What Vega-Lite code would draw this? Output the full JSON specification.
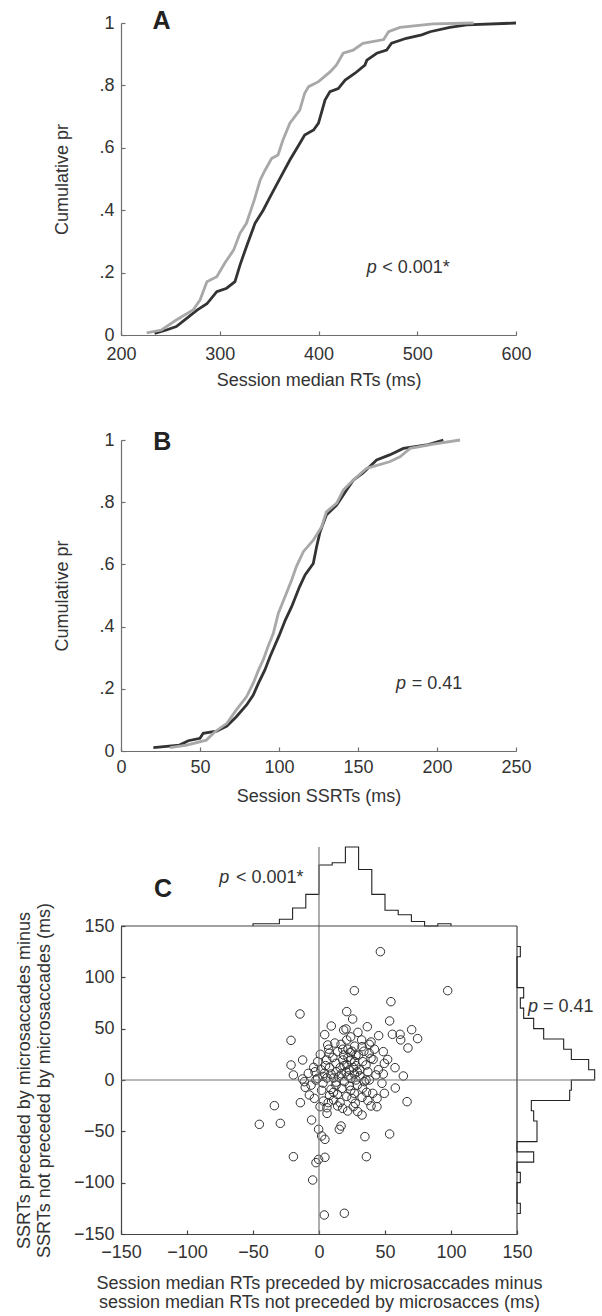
{
  "$schema": "https://vega.github.io/schema/vega-lite/v6.json",
  "padding": {"left": 14, "top": 9, "right": 5, "bottom": 5},
  "config": {
    "font": "Liberation Sans",
    "view": {"stroke": null},
    "axis": {
      "labelFont": "Liberation Sans", "titleFont": "Liberation Sans",
      "labelFontSize": 18, "titleFontSize": 18, "titleFontWeight": "normal",
      "labelColor": "#333333", "titleColor": "#333333",
      "domainColor": "#6e6e6e", "tickColor": "#6e6e6e", "domainWidth": 1.2, "tickWidth": 1.2,
      "grid": false, "tickSize": -4, "labelPadding": 11, "labelFlush": false, "labelOverlap": false
    }
  },
  "datasets": {
    "cdfA": [
      {"rt": 234, "p": 0.005, "grp": "dark"}, {"rt": 246, "p": 0.016, "grp": "dark"}, {"rt": 256, "p": 0.027, "grp": "dark"},
      {"rt": 266.5, "p": 0.053, "grp": "dark"}, {"rt": 277, "p": 0.08, "grp": "dark"}, {"rt": 287, "p": 0.10, "grp": "dark"},
      {"rt": 297, "p": 0.139, "grp": "dark"}, {"rt": 307, "p": 0.15, "grp": "dark"}, {"rt": 315.4, "p": 0.171, "grp": "dark"},
      {"rt": 320.5, "p": 0.224, "grp": "dark"}, {"rt": 327, "p": 0.283, "grp": "dark"}, {"rt": 335.7, "p": 0.358, "grp": "dark"},
      {"rt": 344, "p": 0.40, "grp": "dark"}, {"rt": 351, "p": 0.443, "grp": "dark"}, {"rt": 361, "p": 0.502, "grp": "dark"},
      {"rt": 371, "p": 0.561, "grp": "dark"}, {"rt": 381, "p": 0.614, "grp": "dark"}, {"rt": 386, "p": 0.641, "grp": "dark"},
      {"rt": 395, "p": 0.657, "grp": "dark"}, {"rt": 400, "p": 0.679, "grp": "dark"}, {"rt": 406.6, "p": 0.753, "grp": "dark"},
      {"rt": 411.6, "p": 0.78, "grp": "dark"}, {"rt": 420, "p": 0.79, "grp": "dark"}, {"rt": 427, "p": 0.817, "grp": "dark"},
      {"rt": 437, "p": 0.839, "grp": "dark"}, {"rt": 447, "p": 0.865, "grp": "dark"}, {"rt": 449, "p": 0.881, "grp": "dark"},
      {"rt": 459, "p": 0.903, "grp": "dark"}, {"rt": 469, "p": 0.913, "grp": "dark"}, {"rt": 474, "p": 0.935, "grp": "dark"},
      {"rt": 489, "p": 0.951, "grp": "dark"}, {"rt": 504.5, "p": 0.962, "grp": "dark"}, {"rt": 513, "p": 0.972, "grp": "dark"},
      {"rt": 533, "p": 0.986, "grp": "dark"}, {"rt": 550, "p": 0.994, "grp": "dark"}, {"rt": 600, "p": 1.0, "grp": "dark"},
      {"rt": 226, "p": 0.007, "grp": "light"}, {"rt": 241, "p": 0.016, "grp": "light"}, {"rt": 256, "p": 0.048, "grp": "light"},
      {"rt": 273, "p": 0.08, "grp": "light"}, {"rt": 280, "p": 0.112, "grp": "light"}, {"rt": 287, "p": 0.171, "grp": "light"},
      {"rt": 297, "p": 0.187, "grp": "light"}, {"rt": 305, "p": 0.23, "grp": "light"}, {"rt": 314, "p": 0.272, "grp": "light"},
      {"rt": 320.5, "p": 0.326, "grp": "light"}, {"rt": 327, "p": 0.358, "grp": "light"}, {"rt": 335, "p": 0.433, "grp": "light"},
      {"rt": 341, "p": 0.497, "grp": "light"}, {"rt": 346, "p": 0.529, "grp": "light"}, {"rt": 352.6, "p": 0.566, "grp": "light"},
      {"rt": 359, "p": 0.577, "grp": "light"}, {"rt": 364, "p": 0.625, "grp": "light"}, {"rt": 371, "p": 0.679, "grp": "light"},
      {"rt": 381, "p": 0.721, "grp": "light"}, {"rt": 386, "p": 0.775, "grp": "light"}, {"rt": 390, "p": 0.796, "grp": "light"},
      {"rt": 400, "p": 0.812, "grp": "light"}, {"rt": 412, "p": 0.844, "grp": "light"}, {"rt": 418, "p": 0.865, "grp": "light"},
      {"rt": 425, "p": 0.903, "grp": "light"}, {"rt": 435, "p": 0.913, "grp": "light"}, {"rt": 445, "p": 0.935, "grp": "light"},
      {"rt": 466, "p": 0.947, "grp": "light"}, {"rt": 471, "p": 0.972, "grp": "light"}, {"rt": 482.5, "p": 0.986, "grp": "light"},
      {"rt": 516, "p": 0.997, "grp": "light"}, {"rt": 557, "p": 1.0, "grp": "light"}
    ],
    "cdfB": [
      {"ssrt": 20.5, "p": 0.011, "grp": "dark"}, {"ssrt": 37, "p": 0.019, "grp": "dark"}, {"ssrt": 42.6, "p": 0.033, "grp": "dark"},
      {"ssrt": 50, "p": 0.041, "grp": "dark"}, {"ssrt": 52, "p": 0.057, "grp": "dark"}, {"ssrt": 60.5, "p": 0.064, "grp": "dark"},
      {"ssrt": 67, "p": 0.08, "grp": "dark"}, {"ssrt": 73, "p": 0.11, "grp": "dark"}, {"ssrt": 79.5, "p": 0.148, "grp": "dark"},
      {"ssrt": 83.7, "p": 0.18, "grp": "dark"}, {"ssrt": 87, "p": 0.218, "grp": "dark"}, {"ssrt": 91, "p": 0.26, "grp": "dark"},
      {"ssrt": 94.3, "p": 0.303, "grp": "dark"}, {"ssrt": 97.5, "p": 0.341, "grp": "dark"}, {"ssrt": 100, "p": 0.37, "grp": "dark"},
      {"ssrt": 104, "p": 0.421, "grp": "dark"}, {"ssrt": 108, "p": 0.464, "grp": "dark"}, {"ssrt": 113, "p": 0.528, "grp": "dark"},
      {"ssrt": 116.5, "p": 0.566, "grp": "dark"}, {"ssrt": 121.7, "p": 0.603, "grp": "dark"}, {"ssrt": 123.8, "p": 0.657, "grp": "dark"},
      {"ssrt": 126, "p": 0.705, "grp": "dark"}, {"ssrt": 130, "p": 0.759, "grp": "dark"}, {"ssrt": 136.5, "p": 0.791, "grp": "dark"},
      {"ssrt": 142.8, "p": 0.839, "grp": "dark"}, {"ssrt": 147, "p": 0.871, "grp": "dark"}, {"ssrt": 153, "p": 0.893, "grp": "dark"},
      {"ssrt": 161.8, "p": 0.936, "grp": "dark"}, {"ssrt": 170, "p": 0.952, "grp": "dark"}, {"ssrt": 178.7, "p": 0.973, "grp": "dark"},
      {"ssrt": 193.5, "p": 0.984, "grp": "dark"}, {"ssrt": 204, "p": 1.0, "grp": "dark"},
      {"ssrt": 31, "p": 0.011, "grp": "light"}, {"ssrt": 41.6, "p": 0.019, "grp": "light"}, {"ssrt": 54, "p": 0.035, "grp": "light"},
      {"ssrt": 59.5, "p": 0.062, "grp": "light"}, {"ssrt": 67, "p": 0.089, "grp": "light"}, {"ssrt": 73, "p": 0.132, "grp": "light"},
      {"ssrt": 79.5, "p": 0.175, "grp": "light"}, {"ssrt": 83.7, "p": 0.218, "grp": "light"}, {"ssrt": 87, "p": 0.26, "grp": "light"},
      {"ssrt": 90, "p": 0.293, "grp": "light"}, {"ssrt": 93, "p": 0.335, "grp": "light"}, {"ssrt": 96.4, "p": 0.378, "grp": "light"},
      {"ssrt": 99.6, "p": 0.443, "grp": "light"}, {"ssrt": 103.8, "p": 0.496, "grp": "light"}, {"ssrt": 108, "p": 0.55, "grp": "light"},
      {"ssrt": 111, "p": 0.593, "grp": "light"}, {"ssrt": 115.4, "p": 0.641, "grp": "light"}, {"ssrt": 121.7, "p": 0.678, "grp": "light"},
      {"ssrt": 127, "p": 0.721, "grp": "light"}, {"ssrt": 130, "p": 0.769, "grp": "light"}, {"ssrt": 136.5, "p": 0.797, "grp": "light"},
      {"ssrt": 140.7, "p": 0.839, "grp": "light"}, {"ssrt": 147, "p": 0.871, "grp": "light"}, {"ssrt": 155.5, "p": 0.909, "grp": "light"},
      {"ssrt": 170, "p": 0.93, "grp": "light"}, {"ssrt": 176.6, "p": 0.946, "grp": "light"}, {"ssrt": 183, "p": 0.973, "grp": "light"},
      {"ssrt": 197.7, "p": 0.987, "grp": "light"}, {"ssrt": 214.6, "p": 1.0, "grp": "light"}
    ],
    "pts": [
      {"dRT": -45.2, "dSSRT": -43.2}, {"dRT": -33.8, "dSSRT": -25},
      {"dRT": -29.3, "dSSRT": -42.2}, {"dRT": -21.2, "dSSRT": 38.6}, {"dRT": -21.2, "dSSRT": 14.6},
      {"dRT": -14.4, "dSSRT": 64.3}, {"dRT": -12.4, "dSSRT": 19.5}, {"dRT": -19.4, "dSSRT": 4.9}, {"dRT": -11.1, "dSSRT": -1.6},
      {"dRT": -10.4, "dSSRT": -7.1}, {"dRT": -14.1, "dSSRT": -22.1}, {"dRT": -19.4, "dSSRT": -74.7}, {"dRT": -12.5, "dSSRT": 1},
      {"dRT": -8.1, "dSSRT": 6.5}, {"dRT": -7.3, "dSSRT": -14.6}, {"dRT": -3.5, "dSSRT": -17.9}, {"dRT": -4, "dSSRT": 12.3},
      {"dRT": -2.3, "dSSRT": 0}, {"dRT": -5.6, "dSSRT": -39}, {"dRT": -0.3, "dSSRT": -48}, {"dRT": -2.3, "dSSRT": -80.5},
      {"dRT": -0.3, "dSSRT": -77.3}, {"dRT": -4.8, "dSSRT": -97.4}, {"dRT": -1, "dSSRT": 17.9}, {"dRT": -1, "dSSRT": 1.6},
      {"dRT": -6, "dSSRT": -5}, {"dRT": -3, "dSSRT": 8},
      {"dRT": 4.3, "dSSRT": 44.2}, {"dRT": 9.3, "dSSRT": 52.6}, {"dRT": 6.6, "dSSRT": 34.1}, {"dRT": 7.8, "dSSRT": 26},
      {"dRT": 5.8, "dSSRT": 19.5}, {"dRT": 4, "dSSRT": 6.5}, {"dRT": 9.1, "dSSRT": 5.8}, {"dRT": 9.1, "dSSRT": -9.1},
      {"dRT": 3.3, "dSSRT": -20.5}, {"dRT": 0.8, "dSSRT": -26}, {"dRT": 6.1, "dSSRT": -32.5}, {"dRT": 2, "dSSRT": -54.5},
      {"dRT": 4.5, "dSSRT": -57.8}, {"dRT": 4.5, "dSSRT": -75.3}, {"dRT": 4, "dSSRT": -131.5}, {"dRT": 7.3, "dSSRT": 30},
      {"dRT": 1.5, "dSSRT": 10}, {"dRT": 3, "dSSRT": -3}, {"dRT": 6, "dSSRT": 2}, {"dRT": 8, "dSSRT": -15},
      {"dRT": 2, "dSSRT": -10}, {"dRT": 5, "dSSRT": 14}, {"dRT": 7, "dSSRT": -22}, {"dRT": 1, "dSSRT": 25},
      {"dRT": 8, "dSSRT": 12}, {"dRT": 3, "dSSRT": 3.5}, {"dRT": 6, "dSSRT": -27},
      {"dRT": 18.7, "dSSRT": 48.7}, {"dRT": 16.7, "dSSRT": 34.7}, {"dRT": 14.1, "dSSRT": 27.6}, {"dRT": 18.7, "dSSRT": 24.4},
      {"dRT": 18, "dSSRT": 19.5}, {"dRT": 12.9, "dSSRT": 16.2}, {"dRT": 12.9, "dSSRT": -4.9}, {"dRT": 19.2, "dSSRT": -1.6},
      {"dRT": 17.4, "dSSRT": -8.1}, {"dRT": 11.1, "dSSRT": -19.5}, {"dRT": 14.1, "dSSRT": -25.3}, {"dRT": 17.9, "dSSRT": -27.6},
      {"dRT": 16.7, "dSSRT": -44.8}, {"dRT": 15.4, "dSSRT": -48}, {"dRT": 19.2, "dSSRT": -129.8}, {"dRT": 10.5, "dSSRT": 22},
      {"dRT": 13, "dSSRT": 8}, {"dRT": 15, "dSSRT": 3}, {"dRT": 16, "dSSRT": 12}, {"dRT": 11, "dSSRT": -12},
      {"dRT": 14, "dSSRT": -14}, {"dRT": 18, "dSSRT": 30}, {"dRT": 12, "dSSRT": 36}, {"dRT": 19, "dSSRT": 14},
      {"dRT": 16, "dSSRT": -22}, {"dRT": 13, "dSSRT": -2}, {"dRT": 17, "dSSRT": 6}, {"dRT": 11, "dSSRT": 2},
      {"dRT": 21, "dSSRT": 66.6}, {"dRT": 25.5, "dSSRT": 59.4}, {"dRT": 20.5, "dSSRT": 49.7}, {"dRT": 29.5, "dSSRT": 46.4},
      {"dRT": 21, "dSSRT": 39}, {"dRT": 23.7, "dSSRT": 26.6}, {"dRT": 24.2, "dSSRT": 19.5}, {"dRT": 26.8, "dSSRT": 5.8},
      {"dRT": 24.2, "dSSRT": 1.6}, {"dRT": 23, "dSSRT": -5.8}, {"dRT": 26.8, "dSSRT": -13}, {"dRT": 27.5, "dSSRT": -22.7},
      {"dRT": 29.3, "dSSRT": -30.8}, {"dRT": 21.7, "dSSRT": -30.2}, {"dRT": 26.8, "dSSRT": 87}, {"dRT": 22, "dSSRT": 22},
      {"dRT": 25, "dSSRT": 28}, {"dRT": 28, "dSSRT": 24}, {"dRT": 21, "dSSRT": 15}, {"dRT": 27, "dSSRT": 18},
      {"dRT": 23, "dSSRT": 10}, {"dRT": 26, "dSSRT": 12}, {"dRT": 29, "dSSRT": 8}, {"dRT": 22, "dSSRT": 4},
      {"dRT": 28, "dSSRT": 0}, {"dRT": 24, "dSSRT": -10}, {"dRT": 21, "dSSRT": -16}, {"dRT": 25, "dSSRT": -18},
      {"dRT": 29, "dSSRT": -5}, {"dRT": 22, "dSSRT": 30}, {"dRT": 27, "dSSRT": 33}, {"dRT": 24, "dSSRT": 42},
      {"dRT": 28, "dSSRT": 14}, {"dRT": 20.5, "dSSRT": 8}, {"dRT": 26, "dSSRT": -26},
      {"dRT": 36.6, "dSSRT": 51.9}, {"dRT": 32.3, "dSSRT": 39}, {"dRT": 39.4, "dSSRT": 37}, {"dRT": 32.6, "dSSRT": 32.5},
      {"dRT": 38.1, "dSSRT": 34.7}, {"dRT": 30, "dSSRT": 24.4}, {"dRT": 33.1, "dSSRT": 17.9}, {"dRT": 39.4, "dSSRT": 21.1},
      {"dRT": 35.6, "dSSRT": 0}, {"dRT": 34.3, "dSSRT": -1.6}, {"dRT": 38.1, "dSSRT": 0}, {"dRT": 32.6, "dSSRT": -16.9},
      {"dRT": 32.6, "dSSRT": -34.1}, {"dRT": 39.4, "dSSRT": -25.3}, {"dRT": 34.8, "dSSRT": -55.2}, {"dRT": 35.9, "dSSRT": -74.7},
      {"dRT": 35.6, "dSSRT": 14.6}, {"dRT": 31, "dSSRT": 10}, {"dRT": 37, "dSSRT": 8}, {"dRT": 33, "dSSRT": -8},
      {"dRT": 36, "dSSRT": -12}, {"dRT": 31, "dSSRT": 4}, {"dRT": 38, "dSSRT": 26}, {"dRT": 34, "dSSRT": 28},
      {"dRT": 37, "dSSRT": -20},
      {"dRT": 45.2, "dSSRT": 43.2}, {"dRT": 48.7, "dSSRT": 27.6}, {"dRT": 49.5, "dSSRT": 16.2}, {"dRT": 43.2, "dSSRT": 4.9},
      {"dRT": 48.7, "dSSRT": 5.8}, {"dRT": 47.7, "dSSRT": -3.2}, {"dRT": 40.7, "dSSRT": -13}, {"dRT": 49.5, "dSSRT": -13},
      {"dRT": 43.9, "dSSRT": -26}, {"dRT": 46.5, "dSSRT": 125}, {"dRT": 42, "dSSRT": 30}, {"dRT": 45, "dSSRT": 10},
      {"dRT": 41, "dSSRT": 20}, {"dRT": 44, "dSSRT": -18},
      {"dRT": 54.5, "dSSRT": 76.3}, {"dRT": 53.5, "dSSRT": 57.5}, {"dRT": 55.6, "dSSRT": 44.5}, {"dRT": 57.6, "dSSRT": 12},
      {"dRT": 57.8, "dSSRT": -7.8}, {"dRT": 53.5, "dSSRT": -52.6}, {"dRT": 52, "dSSRT": 20},
      {"dRT": 61.4, "dSSRT": 44.5}, {"dRT": 61.9, "dSSRT": 39}, {"dRT": 67.4, "dSSRT": 31.2}, {"dRT": 63.9, "dSSRT": 3.9},
      {"dRT": 66.7, "dSSRT": -21.1}, {"dRT": 70.2, "dSSRT": 49}, {"dRT": 74.7, "dSSRT": 40.3}, {"dRT": 97.5, "dSSRT": 87}
    ],
    "histTop": [
      {"i": 0, "edge": -50, "count": 0}, {"i": 1, "edge": -50, "count": 1}, {"i": 2, "edge": -40, "count": 1},
      {"i": 3, "edge": -30, "count": 3}, {"i": 4, "edge": -20, "count": 8}, {"i": 5, "edge": -10, "count": 14},
      {"i": 6, "edge": 0, "count": 27}, {"i": 7, "edge": 10, "count": 28}, {"i": 8, "edge": 20, "count": 35},
      {"i": 9, "edge": 30, "count": 25}, {"i": 10, "edge": 40, "count": 14}, {"i": 11, "edge": 50, "count": 7},
      {"i": 12, "edge": 60, "count": 5}, {"i": 13, "edge": 70, "count": 2}, {"i": 14, "edge": 80, "count": 0},
      {"i": 15, "edge": 90, "count": 1}, {"i": 16, "edge": 100, "count": 0}
    ],
    "histRight": [
      {"i": 0, "edge": 130, "count": 0}, {"i": 1, "edge": 130, "count": 1}, {"i": 2, "edge": 120, "count": 0},
      {"i": 3, "edge": 90, "count": 2}, {"i": 4, "edge": 80, "count": 1}, {"i": 5, "edge": 70, "count": 2},
      {"i": 6, "edge": 60, "count": 5}, {"i": 7, "edge": 50, "count": 8}, {"i": 8, "edge": 40, "count": 14},
      {"i": 9, "edge": 30, "count": 16.3}, {"i": 10, "edge": 20, "count": 21.5}, {"i": 11, "edge": 10, "count": 23.3},
      {"i": 12, "edge": 0, "count": 16.3}, {"i": 13, "edge": -10, "count": 15.8}, {"i": 14, "edge": -20, "count": 4.3},
      {"i": 15, "edge": -30, "count": 5}, {"i": 16, "edge": -40, "count": 6}, {"i": 17, "edge": -50, "count": 6},
      {"i": 18, "edge": -60, "count": 0}, {"i": 19, "edge": -70, "count": 5}, {"i": 20, "edge": -80, "count": 0},
      {"i": 21, "edge": -90, "count": 1}, {"i": 22, "edge": -100, "count": 0}, {"i": 23, "edge": -120, "count": 1},
      {"i": 24, "edge": -130, "count": 0}
    ]
  },
  "spacing": 105,
  "bounds": "flush",
  "vconcat": [
    {
      "width": 395, "height": 312,
      "layer": [
        {
          "data": {"name": "cdfA"},
          "mark": {"type": "line", "strokeWidth": 2.8},
          "encoding": {
            "x": {"field": "rt", "type": "quantitative", "scale": {"domain": [200, 600], "nice": false},
                  "axis": {"title": "Session median RTs (ms)", "values": [200, 300, 400, 500, 600], "labelPadding": 14, "titleY": 50, "titleBaseline": "alphabetic"}},
            "y": {"field": "p", "type": "quantitative", "scale": {"domain": [0, 1], "nice": false},
                  "axis": {"title": "Cumulative pr", "values": [0, 0.2, 0.4, 0.6, 0.8, 1],
                           "labelExpr": "datum.value == 0 ? '0' : datum.value == 1 ? '1' : replace(format(datum.value, '.1f'), '0.', '.')",
                           "titleX": -59, "titleBaseline": "middle"}},
            "color": {"field": "grp", "type": "nominal", "scale": {"domain": ["dark", "light"], "range": ["#333333", "#a8a8a8"]}, "legend": null}
          }
        },
        {
          "data": {"values": [{"rt": 232, "p": 0.98, "t": "A"}]},
          "mark": {"type": "text", "fontSize": 25, "fontWeight": "bold", "align": "left", "baseline": "alphabetic", "color": "#222222"},
          "encoding": {"x": {"field": "rt", "type": "quantitative"}, "y": {"field": "p", "type": "quantitative"}, "text": {"field": "t", "type": "nominal"}}
        },
        {
          "data": {"values": [{"rt": 448.8, "p": 0.2, "t": "p"}]},
          "mark": {"type": "text", "fontSize": 18, "fontStyle": "italic", "align": "left", "baseline": "alphabetic", "color": "#333333"},
          "encoding": {"x": {"field": "rt", "type": "quantitative"}, "y": {"field": "p", "type": "quantitative"}, "text": {"field": "t", "type": "nominal"}}
        },
        {
          "data": {"values": [{"rt": 464.6, "p": 0.2, "t": "< 0.001*"}]},
          "mark": {"type": "text", "fontSize": 18, "align": "left", "baseline": "alphabetic", "color": "#333333"},
          "encoding": {"x": {"field": "rt", "type": "quantitative"}, "y": {"field": "p", "type": "quantitative"}, "text": {"field": "t", "type": "nominal"}}
        }
      ]
    },
    {
      "spacing": 96,
      "bounds": "flush",
      "vconcat": [
        {
          "width": 395, "height": 311,
          "layer": [
            {
              "data": {"name": "cdfB"},
              "mark": {"type": "line", "strokeWidth": 2.8},
              "encoding": {
                "x": {"field": "ssrt", "type": "quantitative", "scale": {"domain": [0, 250], "nice": false},
                      "axis": {"title": "Session SSRTs (ms)", "values": [0, 50, 100, 150, 200, 250], "titleY": 50, "titleBaseline": "alphabetic"}},
                "y": {"field": "p", "type": "quantitative", "scale": {"domain": [0, 1], "nice": false},
                      "axis": {"title": "Cumulative pr", "values": [0, 0.2, 0.4, 0.6, 0.8, 1],
                               "labelExpr": "datum.value == 0 ? '0' : datum.value == 1 ? '1' : replace(format(datum.value, '.1f'), '0.', '.')",
                               "titleX": -59, "titleBaseline": "middle"}},
                "color": {"field": "grp", "type": "nominal", "scale": {"domain": ["dark", "light"], "range": ["#333333", "#a8a8a8"]}, "legend": null}
              }
            },
            {
              "data": {"values": [{"ssrt": 20.4, "p": 0.968, "t": "B"}]},
              "mark": {"type": "text", "fontSize": 25, "fontWeight": "bold", "align": "left", "baseline": "alphabetic", "color": "#222222"},
              "encoding": {"x": {"field": "ssrt", "type": "quantitative"}, "y": {"field": "p", "type": "quantitative"}, "text": {"field": "t", "type": "nominal"}}
            },
            {
              "data": {"values": [{"ssrt": 174, "p": 0.198, "t": "p"}]},
              "mark": {"type": "text", "fontSize": 18, "fontStyle": "italic", "align": "left", "baseline": "alphabetic", "color": "#333333"},
              "encoding": {"x": {"field": "ssrt", "type": "quantitative"}, "y": {"field": "p", "type": "quantitative"}, "text": {"field": "t", "type": "nominal"}}
            },
            {
              "data": {"values": [{"ssrt": 184, "p": 0.198, "t": "= 0.41"}]},
              "mark": {"type": "text", "fontSize": 18, "align": "left", "baseline": "alphabetic", "color": "#333333"},
              "encoding": {"x": {"field": "ssrt", "type": "quantitative"}, "y": {"field": "p", "type": "quantitative"}, "text": {"field": "t", "type": "nominal"}}
            }
          ]
        },
        {
          "spacing": 0,
          "bounds": "flush",
          "vconcat": [
            {
              "width": 396, "height": 79,
              "layer": [
                {
                  "data": {"name": "histTop"},
                  "mark": {"type": "line", "interpolate": "step-after", "color": "#222222", "strokeWidth": 1.1},
                  "encoding": {
                    "x": {"field": "edge", "type": "quantitative", "scale": {"domain": [-150, 150], "nice": false}, "axis": null},
                    "y": {"field": "count", "type": "quantitative", "scale": {"domain": [0, 35], "nice": false}, "axis": null},
                    "order": {"field": "i", "type": "quantitative"}
                  }
                },
                {
                  "data": {"values": [{"edge": 0}]},
                  "mark": {"type": "rule", "color": "#777777", "strokeWidth": 1.2},
                  "encoding": {"x": {"field": "edge", "type": "quantitative", "axis": null}}
                },
                {
                  "data": {"values": [{"edge": -125, "count": 12.8, "t": "C"}]},
                  "mark": {"type": "text", "fontSize": 25, "fontWeight": "bold", "align": "left", "baseline": "alphabetic", "color": "#222222"},
                  "encoding": {"x": {"field": "edge", "type": "quantitative", "axis": null}, "y": {"field": "count", "type": "quantitative", "axis": null}, "text": {"field": "t", "type": "nominal"}}
                },
                {
                  "data": {"values": [{"edge": -75.5, "count": 18.9, "t": "p"}]},
                  "mark": {"type": "text", "fontSize": 18, "fontStyle": "italic", "align": "left", "baseline": "alphabetic", "color": "#333333"},
                  "encoding": {"x": {"field": "edge", "type": "quantitative", "axis": null}, "y": {"field": "count", "type": "quantitative", "axis": null}, "text": {"field": "t", "type": "nominal"}}
                },
                {
                  "data": {"values": [{"edge": -62.9, "count": 18.9, "t": "< 0.001*"}]},
                  "mark": {"type": "text", "fontSize": 18, "align": "left", "baseline": "alphabetic", "color": "#333333"},
                  "encoding": {"x": {"field": "edge", "type": "quantitative", "axis": null}, "y": {"field": "count", "type": "quantitative", "axis": null}, "text": {"field": "t", "type": "nominal"}}
                }
              ]
            },
            {
              "spacing": 0,
              "bounds": "flush",
              "hconcat": [
                {
                  "width": 396, "height": 308,
                  "layer": [
                    {
                      "data": {"name": "pts"},
                      "mark": {"type": "point", "shape": "circle", "filled": false, "size": 72, "stroke": "#333333", "strokeWidth": 1, "opacity": 1},
                      "encoding": {
                        "x": {"field": "dRT", "type": "quantitative", "scale": {"domain": [-150, 150], "nice": false},
                              "axis": {"title": ["Session median RTs preceded by microsaccades minus", "session median RTs not preceded by microsacces (ms)"],
                                       "values": [-150, -100, -50, 0, 50, 100, 150], "labelPadding": 13, "titleY": 54, "titleBaseline": "alphabetic", "titleLineHeight": 19,
                                       "domainColor": "#444444", "tickColor": "#444444"}},
                        "y": {"field": "dSSRT", "type": "quantitative", "scale": {"domain": [-150, 150], "nice": false},
                              "axis": {"title": ["SSRTs preceded by microsaccades minus", "SSRTs not preceded by microsaccades (ms)"],
                                       "values": [-150, -100, -50, 0, 50, 100, 150], "titleX": -97, "titleBaseline": "middle", "titleLineHeight": 20,
                                       "domainColor": "#444444", "tickColor": "#444444"}}
                      }
                    },
                    {
                      "data": {"values": [{"dRT": 0}]},
                      "mark": {"type": "rule", "color": "#777777", "strokeWidth": 1.2},
                      "encoding": {"x": {"field": "dRT", "type": "quantitative"}}
                    },
                    {
                      "data": {"values": [{"dSSRT": 0}]},
                      "mark": {"type": "rule", "color": "#777777", "strokeWidth": 1.2},
                      "encoding": {"y": {"field": "dSSRT", "type": "quantitative"}}
                    },
                    {
                      "data": {"values": [{"dRT": 150}]},
                      "mark": {"type": "rule", "color": "#444444", "strokeWidth": 1.2},
                      "encoding": {"x": {"field": "dRT", "type": "quantitative"}}
                    },
                    {
                      "data": {"values": [{"dSSRT": 150}]},
                      "mark": {"type": "rule", "color": "#444444", "strokeWidth": 1.2},
                      "encoding": {"y": {"field": "dSSRT", "type": "quantitative"}}
                    }
                  ]
                },
                {
                  "width": 78, "height": 308,
                  "layer": [
                    {
                      "data": {"name": "histRight"},
                      "mark": {"type": "line", "interpolate": "step-before", "color": "#222222", "strokeWidth": 1.1},
                      "encoding": {
                        "x": {"field": "count", "type": "quantitative", "scale": {"domain": [0, 23.4], "nice": false}, "axis": null},
                        "y": {"field": "edge", "type": "quantitative", "scale": {"domain": [-150, 150], "nice": false}, "axis": null},
                        "order": {"field": "i", "type": "quantitative"}
                      }
                    },
                    {
                      "data": {"values": [{"edge": 0}]},
                      "mark": {"type": "rule", "color": "#777777", "strokeWidth": 1.2},
                      "encoding": {"y": {"field": "edge", "type": "quantitative", "axis": null}}
                    },
                    {
                      "data": {"values": [{"count": 3.3, "edge": 66.5, "t": "p"}]},
                      "mark": {"type": "text", "fontSize": 18, "fontStyle": "italic", "align": "left", "baseline": "alphabetic", "color": "#333333"},
                      "encoding": {"x": {"field": "count", "type": "quantitative", "axis": null}, "y": {"field": "edge", "type": "quantitative", "axis": null}, "text": {"field": "t", "type": "nominal"}}
                    },
                    {
                      "data": {"values": [{"count": 7.8, "edge": 66.5, "t": "= 0.41"}]},
                      "mark": {"type": "text", "fontSize": 18, "align": "left", "baseline": "alphabetic", "color": "#333333"},
                      "encoding": {"x": {"field": "count", "type": "quantitative", "axis": null}, "y": {"field": "edge", "type": "quantitative", "axis": null}, "text": {"field": "t", "type": "nominal"}}
                    }
                  ]
                }
              ]
            }
          ]
        }
      ]
    }
  ]
}
